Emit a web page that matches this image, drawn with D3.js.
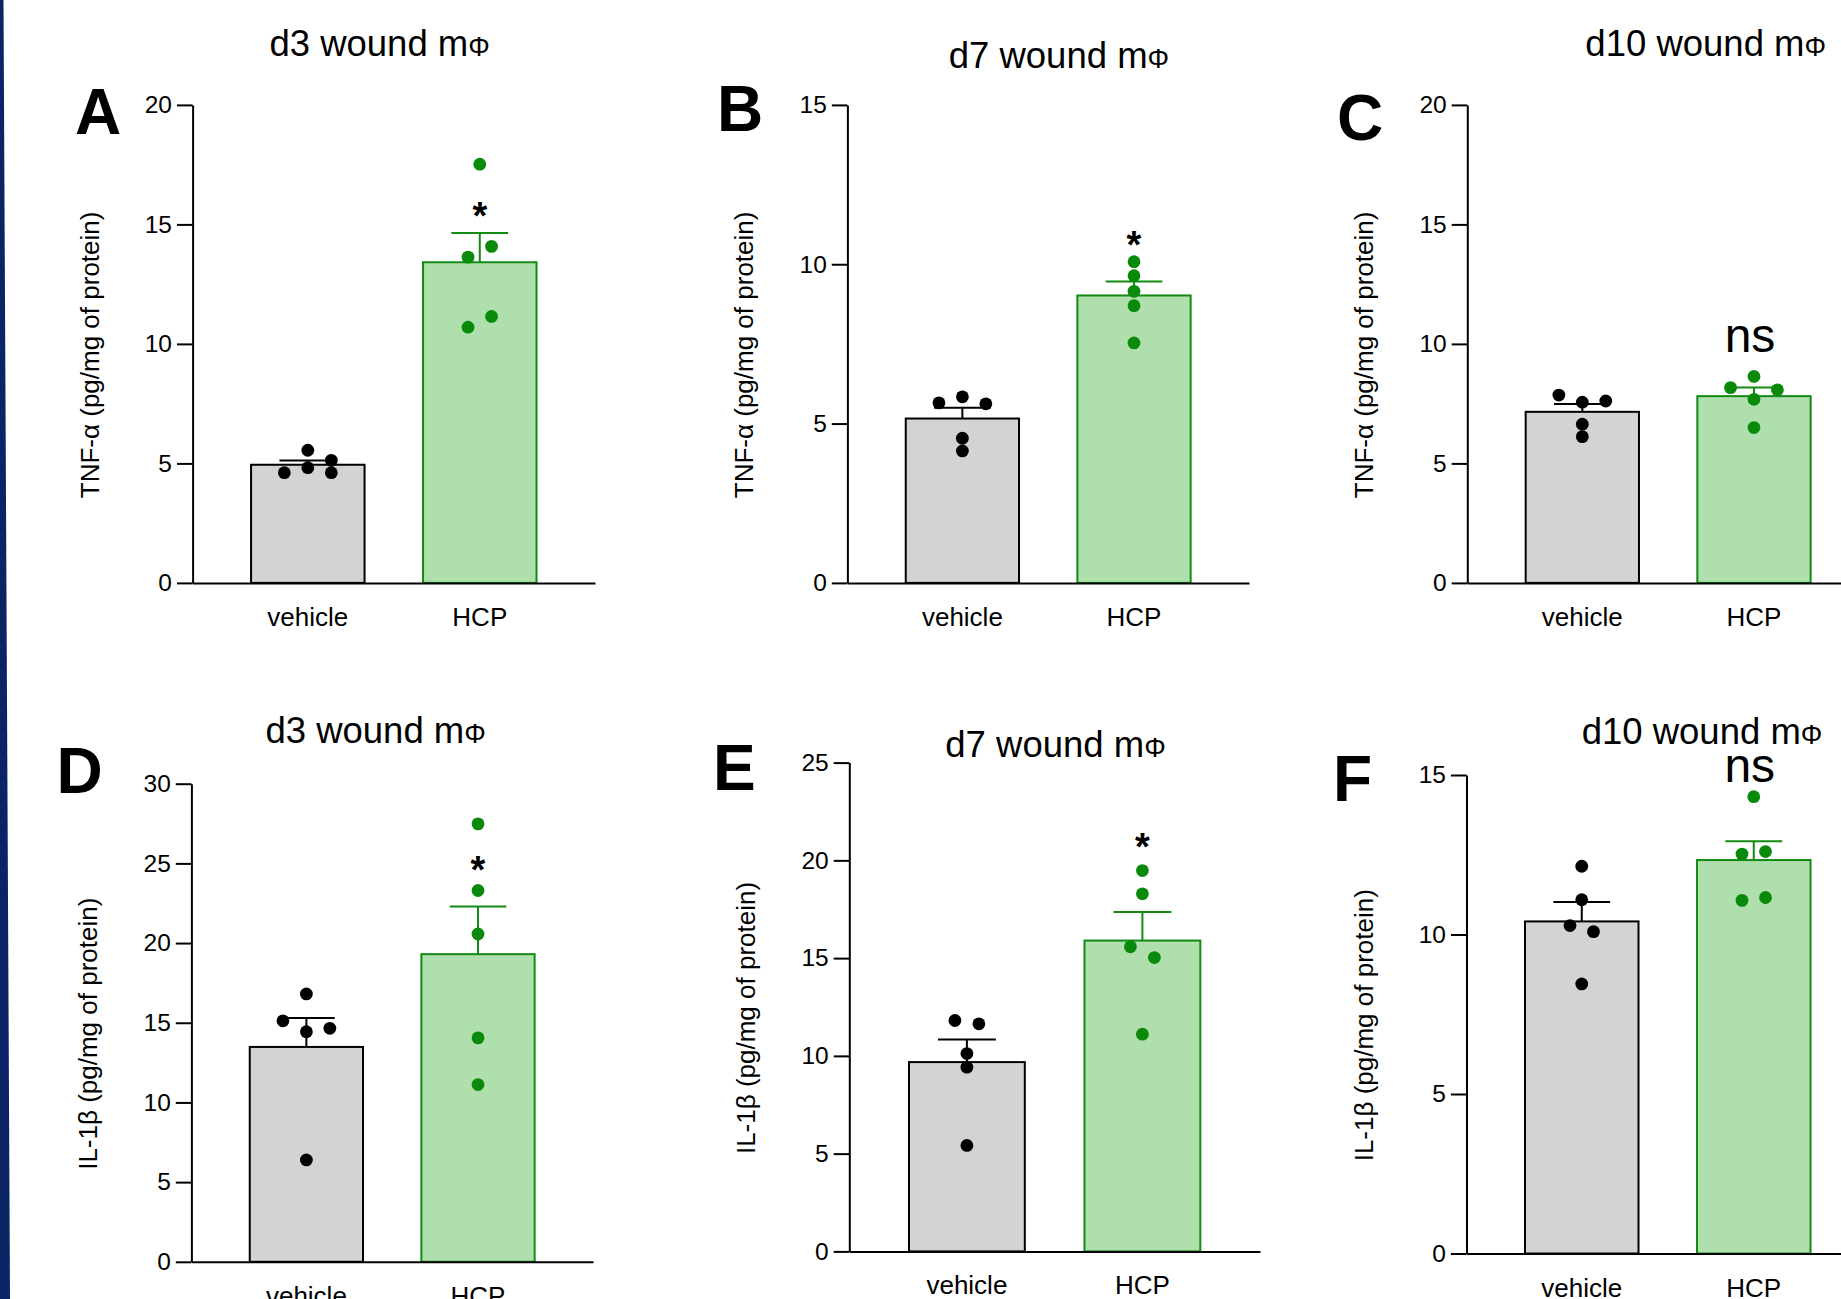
<!DOCTYPE html>
<html><head><meta charset="utf-8">
<script src="https://cdn.jsdelivr.net/npm/d3@7"></script>
<style>
body{margin:0;background:#fff}
svg{display:block}
text{font-family:"Liberation Sans",Arial,Helvetica,sans-serif;fill:#000}
</style>
</head><body>
<svg id="chart" width="1841" height="1299"></svg>
<script>
// ---------- data ----------
const groups = ["vehicle", "HCP"];
const panelLetters = ["A", "B", "C", "D", "E", "F"];
const titleStems = ["d3 wound m", "d7 wound m", "d10 wound m", "d3 wound m", "d7 wound m", "d10 wound m"];
const titleSymbol = "Φ";
const yAxisTitles = [
  "TNF-α (pg/mg of protein)", "TNF-α (pg/mg of protein)", "TNF-α (pg/mg of protein)",
  "IL-1β (pg/mg of protein)", "IL-1β (pg/mg of protein)", "IL-1β (pg/mg of protein)"
];
const yTickLabels = [
  [0, 5, 10, 15, 20],
  [0, 5, 10, 15],
  [0, 5, 10, 15, 20],
  [0, 5, 10, 15, 20, 25, 30],
  [0, 5, 10, 15, 20, 25],
  [0, 5, 10, 15]
];

// individual animals (pg/mg of protein)
const tnfD3Vehicle  = [5.55, 4.61, 4.82, 5.13, 4.61];
const tnfD3HCP      = [17.52, 13.63, 14.08, 10.70, 11.15];
const tnfD7Vehicle  = [5.65, 5.84, 5.62, 4.54, 4.14];
const tnfD7HCP      = [10.08, 9.64, 9.15, 8.70, 7.53];
const tnfD10Vehicle = [7.86, 7.56, 7.61, 6.64, 6.12];
const tnfD10HCP     = [8.17, 8.64, 8.08, 7.68, 6.50];
const il1bD3Vehicle  = [16.81, 15.12, 14.44, 14.65, 6.39];
const il1bD3HCP      = [27.48, 23.30, 20.57, 14.05, 11.12];
const il1bD7Vehicle  = [11.81, 11.64, 10.12, 9.42, 5.42];
const il1bD7HCP      = [19.48, 18.29, 15.58, 15.03, 11.11];
const il1bD10Vehicle = [12.14, 11.09, 10.28, 10.09, 8.45];
const il1bD10HCP     = [14.32, 12.52, 12.60, 11.07, 11.16];

// scatter column of each animal (GraphPad-style spreading)
const tnfD3VehicleCol  = [0, -1, 0, 1, 1];
const tnfD3HCPCol      = [0, -0.5, 0.5, -0.5, 0.5];
const tnfD7VehicleCol  = [-1, 0, 1, 0, 0];
const tnfD7HCPCol      = [0, 0, 0, 0, 0];
const tnfD10VehicleCol = [-1, 0, 1, 0, 0];
const tnfD10HCPCol     = [-1, 0, 1, 0, 0];
const il1bD3VehicleCol  = [0, -1, 0, 1, 0];
const il1bD3HCPCol      = [0, 0, 0, 0, 0];
const il1bD7VehicleCol  = [-0.5, 0.5, 0, 0, 0];
const il1bD7HCPCol      = [0, 0, -0.5, 0.5, 0];
const il1bD10VehicleCol = [0, 0, -0.5, 0.5, 0];
const il1bD10HCPCol     = [0, -0.5, 0.5, -0.5, 0.5];

const sigMarks  = ["*", "*", "ns", "*", "*", "ns"];
const sigLevels = [15.74, 10.88, 9.67, 25.14, 21.13, 14.79];

const panelValues = [
  [tnfD3Vehicle, tnfD3HCP], [tnfD7Vehicle, tnfD7HCP], [tnfD10Vehicle, tnfD10HCP],
  [il1bD3Vehicle, il1bD3HCP], [il1bD7Vehicle, il1bD7HCP], [il1bD10Vehicle, il1bD10HCP]
];
const panelCols = [
  [tnfD3VehicleCol, tnfD3HCPCol], [tnfD7VehicleCol, tnfD7HCPCol], [tnfD10VehicleCol, tnfD10HCPCol],
  [il1bD3VehicleCol, il1bD3HCPCol], [il1bD7VehicleCol, il1bD7HCPCol], [il1bD10VehicleCol, il1bD10HCPCol]
];

// ---------- layout ----------
const layout = [
  {ax: 192.6, x1: 595,  y0: 582.9,  y1: 104.9, tx: 379.6,  ty: 56,    lx: 75,    ly: 133.5},
  {ax: 847.4, x1: 1249, y0: 582.9,  y1: 104.9, tx: 1058.9, ty: 68.4,  lx: 717,   ly: 130.6},
  {ax: 1467.3,x1: 1869, y0: 582.9,  y1: 104.9, tx: 1705.7, ty: 56,    lx: 1337,  ly: 140},
  {ax: 191.4, x1: 593,  y0: 1261.8, y1: 783.7, tx: 375.6,  ty: 743.1, lx: 56.6,  ly: 792.8},
  {ax: 849.3, x1: 1260, y0: 1251.4, y1: 762.6, tx: 1055.5, ty: 756.8, lx: 713,   ly: 789.9},
  {ax: 1466.5,x1: 1869, y0: 1253.5, y1: 775,   tx: 1702,   ty: 744.4, lx: 1333,  ly: 801}
];

const styles = {
  vehicle: {fill: "#d3d3d3", stroke: "#000000", dot: "#000000"},
  HCP:     {fill: "#aedfac", stroke: "#138a13", dot: "#0a8a0a"}
};

const svg = d3.select("#chart");
svg.append("rect").attr("width", 1841).attr("height", 1299).attr("fill", "#fff");

// navy strip on left edge
svg.append("path")
  .attr("d", "M0,0 L3.5,0 L10,1299 L0,1299 Z")
  .attr("fill", "#0a2465");

layout.forEach((L, i) => {
  const g = svg.append("g");
  const ticks = yTickLabels[i];
  const y = d3.scaleLinear().domain([0, ticks[ticks.length - 1]]).range([L.y0, L.y1]);
  const x = d3.scaleBand().domain(groups).range([L.ax, L.x1]).padding(0.34);
  const bw = x.bandwidth();
  const colStep = bw * 0.207;

  // bars, error bars, dots
  groups.forEach((grp, j) => {
    const vals = panelValues[i][j];
    const cols = panelCols[i][j];
    const st = styles[grp];
    const mean = d3.mean(vals);
    const sem = d3.deviation(vals) / Math.sqrt(vals.length);
    const cx = x(grp) + bw / 2;

    g.append("rect")
      .attr("x", x(grp)).attr("width", bw)
      .attr("y", y(mean)).attr("height", y(0) - y(mean))
      .attr("fill", st.fill).attr("stroke", st.stroke).attr("stroke-width", 2);

    g.append("line")
      .attr("x1", cx).attr("x2", cx)
      .attr("y1", y(mean)).attr("y2", y(mean + sem))
      .attr("stroke", st.stroke).attr("stroke-width", 2);
    g.append("line")
      .attr("x1", cx - bw * 0.25).attr("x2", cx + bw * 0.25)
      .attr("y1", y(mean + sem)).attr("y2", y(mean + sem))
      .attr("stroke", st.stroke).attr("stroke-width", 2);

    g.selectAll(null).data(vals).join("circle")
      .attr("cx", (d, k) => cx + cols[k] * colStep)
      .attr("cy", d => y(d))
      .attr("r", 6.4)
      .attr("fill", st.dot);
  });

  // y axis
  const ya = g.append("g").attr("transform", `translate(${L.ax},0)`)
    .call(d3.axisLeft(y).tickValues(ticks).tickSize(15.6).tickSizeOuter(0).tickPadding(5));
  ya.select(".domain").attr("stroke", "#000").attr("stroke-width", 2);
  ya.selectAll(".tick line").attr("stroke", "#000").attr("stroke-width", 2);
  ya.selectAll(".tick text").attr("font-size", 24.5).attr("font-family", '"Liberation Sans", Arial, sans-serif').attr("fill", "#000");

  // x axis
  const xa = g.append("g").attr("transform", `translate(0,${L.y0})`)
    .call(d3.axisBottom(x).tickSize(0).tickSizeOuter(0).tickPadding(24.6));
  xa.select(".domain").attr("stroke", "#000").attr("stroke-width", 2);
  xa.selectAll(".tick text").attr("font-size", 26).attr("font-family", '"Liberation Sans", Arial, sans-serif').attr("fill", "#000");

  // y axis title
  g.append("text")
    .attr("transform", `translate(${L.ax - 94},${(L.y0 + L.y1) / 2 + 11}) rotate(-90)`)
    .attr("text-anchor", "middle")
    .attr("font-size", 26)
    .text(yAxisTitles[i]);

  // panel title
  const t = g.append("text")
    .attr("x", L.tx).attr("y", L.ty)
    .attr("text-anchor", "middle")
    .attr("font-size", 36.5);
  t.append("tspan").text(titleStems[i]);
  t.append("tspan").attr("font-size", 27).text(titleSymbol);

  // panel letter
  g.append("text")
    .attr("x", L.lx).attr("y", L.ly)
    .attr("font-size", 64).attr("font-weight", "bold")
    .text(panelLetters[i]);

  // significance mark above HCP
  const mark = sigMarks[i];
  const fs = mark === "*" ? 38 : 48;
  g.append("text")
    .attr("x", x("HCP") + bw / 2 - (mark === "*" ? 0 : 4))
    .attr("y", y(sigLevels[i]) + (mark === "*" ? 0.58 * fs : 0))
    .attr("text-anchor", "middle")
    .attr("font-size", fs)
    .attr("font-weight", mark === "*" ? "bold" : "normal")
    .text(mark);
});
</script>
</body></html>
